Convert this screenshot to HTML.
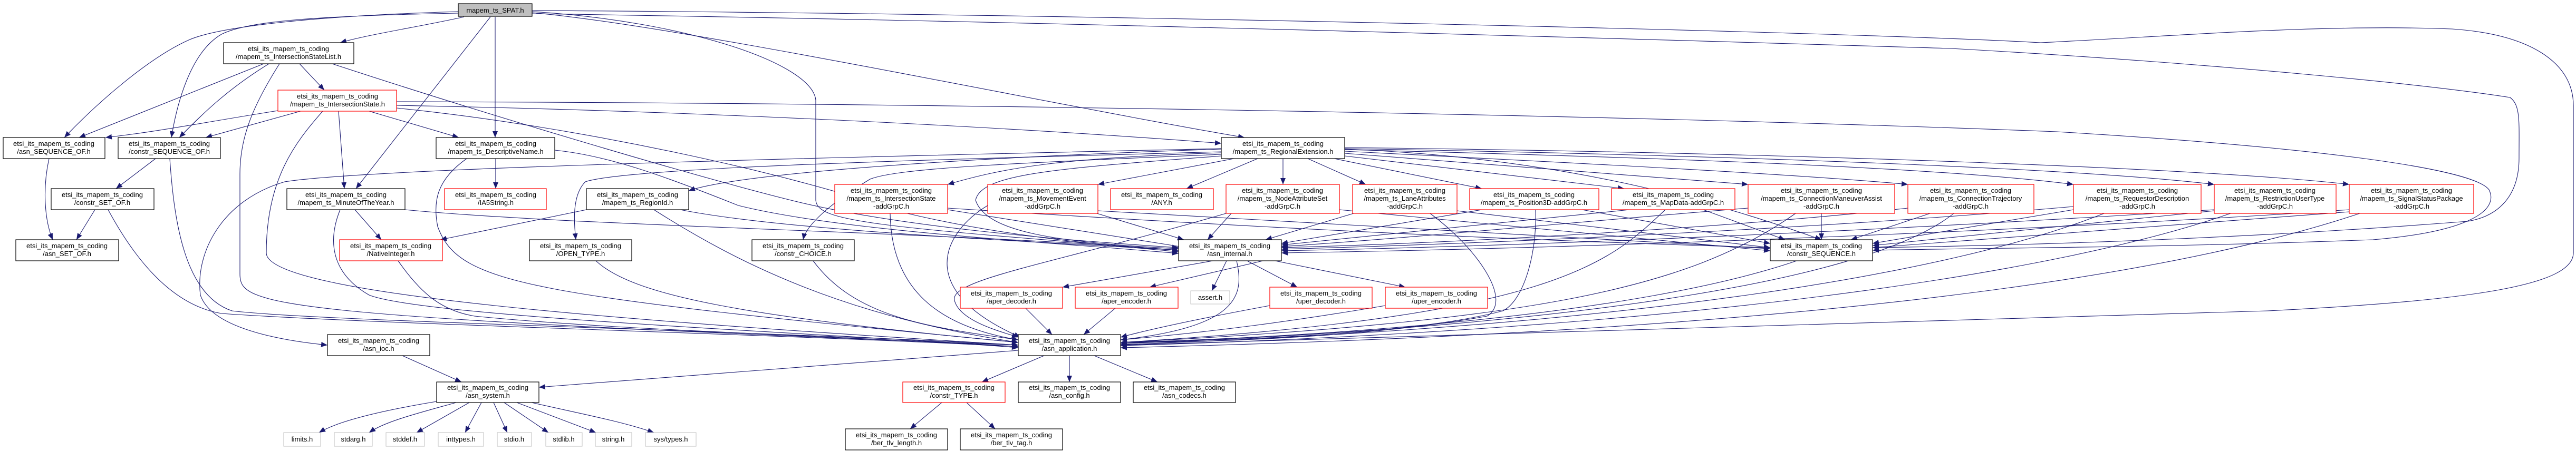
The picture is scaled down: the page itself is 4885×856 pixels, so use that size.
<!DOCTYPE html>
<html><head><meta charset="utf-8"><style>
html,body{margin:0;padding:0;background:#fff;}
svg{display:block;}
text{font-family:"Liberation Sans","DejaVu Sans",sans-serif;font-size:13px;fill:#000;}
.n{fill:#fff;stroke:#000;stroke-width:1.2;}
.r{fill:#fff;stroke:#f00;stroke-width:1.2;}
.g{fill:#fff;stroke:#bfbfbf;stroke-width:1;}
.e{fill:none;stroke:#191970;stroke-width:1.1;}
</style></head><body>
<svg width="4885" height="856" viewBox="0 0 4885 856" xmlns="http://www.w3.org/2000/svg">
<defs><marker id="a" markerUnits="userSpaceOnUse" markerWidth="14" markerHeight="12" refX="12" refY="6" orient="auto"><path d="M0,1 L12,6 L0,11 z" fill="#191970"/></marker></defs>
<g class="e" marker-end="url(#a)">
<!-- SPAT -->
<path d="M880,32 C800,50 700,65 645,81"/>
<path d="M869,22 C600,30 420,50 360,75 C280,110 180,200 122,261"/>
<path d="M869,25 C600,30 470,40 420,65 C360,100 335,200 325,261"/>
<path d="M930,32 L675,358"/>
<path d="M939,32 L939,261"/>
<path d="M1009,24 C1300,50 2000,200 2360,261"/>
<path d="M1009,22 C1300,40 1540,120 1547,190 L1547,380 C1550,420 1650,430 2235,475"/>
<path d="M1009,20 C2000,25 3500,60 3870,81 C4100,70 4400,45 4650,55 C4800,65 4880,120 4880,200 L4880,480 C4880,540 4700,570 4300,590 C3500,620 2700,640 2125,655"/>
<path d="M1009,26 C2000,40 3300,80 3700,92 C4200,120 4600,160 4760,185 C4780,200 4777,230 4777,300 C4777,370 4740,410 4680,420 C4300,450 3900,465 3551,470"/>
<!-- ISL -->
<path d="M568,121 L615,171"/>
<path d="M500,121 L150,261"/>
<path d="M510,121 C430,170 380,220 340,261"/>
<path d="M530,121 C480,200 455,260 455,330 L455,520 C455,580 500,600 1931,655"/>
<path d="M630,121 C900,210 1300,330 1500,380 C1700,430 2000,455 2235,470"/>
<!-- IS -->
<path d="M527,210 C400,230 300,250 200,261"/>
<path d="M570,211 L390,261"/>
<path d="M642,211 L653,358"/>
<path d="M700,211 L870,261"/>
<path d="M612,211 C560,270 505,340 505,480 C505,560 1200,610 1931,655"/>
<path d="M752,200 C1300,210 1900,240 2316,272"/>
<path d="M752,193 C1700,195 3000,215 3900,250 C4400,280 4690,320 4720,360 C4740,400 4680,440 4500,455 C4100,470 3800,470 3551,475"/>
<path d="M752,205 C1100,240 1500,330 1700,400 C1900,450 2100,465 2235,478"/>
<!-- DescName -->
<path d="M940,301 L940,358"/>
<path d="M885,301 C830,340 820,380 830,430 C870,540 1000,560 1931,650"/>
<path d="M1052,285 C1150,295 1250,330 1400,390 C1600,440 2000,460 2235,481"/>
<!-- CSEQOF / SEQOF / CSETOF -->
<path d="M295,301 L220,358"/>
<path d="M322,301 C330,420 350,560 440,590 C600,610 1500,630 1931,655"/>
<path d="M93,301 C80,360 85,420 100,455"/>
<path d="M180,398 L145,455"/>
<path d="M205,398 C260,500 330,580 420,595 C700,615 1500,635 1931,658"/>
<!-- MOTY / NatInt / RegionId / OPEN -->
<path d="M673,398 L723,455"/>
<path d="M645,398 C620,460 630,520 700,560 C800,600 1500,630 1931,658"/>
<path d="M768,398 C1100,430 1800,440 2235,475"/>
<path d="M755,495 C800,560 840,590 900,600 C1200,630 1700,640 1931,660"/>
<path d="M1112,398 L835,455"/>
<path d="M1240,398 C1400,500 1600,600 1931,650"/>
<path d="M1290,398 C1500,440 2000,460 2235,475"/>
<path d="M1130,495 C1200,560 1400,600 1931,650"/>
<path d="M763,675 L875,725"/>
<path d="M1931,665 L1022,735"/>
<!-- RegExt -->
<path d="M2316,282 C1500,300 700,320 540,345 C420,380 370,480 380,560 C400,620 520,645 621,655"/>
<path d="M2316,290 C2000,300 1900,320 1797,350"/>
<path d="M2340,301 L2082,350"/>
<path d="M2385,301 L2250,358"/>
<path d="M2433,301 L2433,350"/>
<path d="M2480,301 L2590,350"/>
<path d="M2530,301 L2810,358"/>
<path d="M2550,296 L3080,358"/>
<path d="M2550,291 L3315,350"/>
<path d="M2550,287 C3000,310 3400,330 3618,350"/>
<path d="M2550,284 C3200,300 3700,320 3932,350"/>
<path d="M2550,282 C3300,295 3950,320 4199,350"/>
<path d="M2550,280 C3400,290 4200,320 4455,350"/>
<path d="M2316,283 C1800,300 1400,330 1306,362"/>
<path d="M2316,288 C1900,300 1200,315 1110,345 C1085,370 1088,420 1092,455"/>
<path d="M2316,293 C1900,310 1700,320 1650,340 C1600,370 1530,420 1523,455"/>
<path d="M2316,296 C2000,320 1860,330 1850,380 C1870,440 2000,460 2235,472"/>
<path d="M2550,283 C3000,300 3300,400 3454,455"/>
<!-- addGrpC -->
<path d="M1797,398 L2250,470"/>
<path d="M1797,395 C2500,440 3000,460 3357,470"/>
<path d="M1688,405 C1690,550 1780,620 1931,645"/>
<path d="M2080,405 L2245,455"/>
<path d="M2082,400 L3357,472"/>
<path d="M1873,390 C1790,440 1730,550 1935,640"/>
<path d="M2335,405 L2290,455"/>
<path d="M2325,405 C2000,500 1800,530 1810,570 C1820,610 1900,630 1931,640"/>
<path d="M2540,398 L3357,476"/>
<path d="M2567,405 L2400,455"/>
<path d="M2763,400 L3357,470"/>
<path d="M2712,405 C2800,470 2870,570 2820,600 C2600,640 2300,650 2125,650"/>
<path d="M2810,398 L2430,462"/>
<path d="M3000,398 L3357,462"/>
<path d="M2912,398 C2915,480 2890,570 2850,590 C2700,630 2400,645 2125,650"/>
<path d="M3090,398 L2430,465"/>
<path d="M3230,398 L3385,455"/>
<path d="M3158,398 C3050,500 2950,600 2125,650"/>
<path d="M3315,395 C3000,420 2700,450 2430,468"/>
<path d="M3454,405 L3454,455"/>
<path d="M3405,405 C3200,550 2900,610 2125,650"/>
<path d="M3618,395 C3300,430 2800,460 2430,470"/>
<path d="M3660,405 L3510,455"/>
<path d="M3705,405 C3550,530 3000,620 2125,652"/>
<path d="M3932,392 C3500,430 2900,460 2430,473"/>
<path d="M3932,398 L3551,462"/>
<path d="M3990,405 C3700,520 3100,620 2125,654"/>
<path d="M4199,398 C3700,430 3000,465 2430,476"/>
<path d="M4199,400 L3551,466"/>
<path d="M4230,405 C3900,520 3200,625 2125,656"/>
<path d="M4455,398 C4000,430 3100,470 2430,480"/>
<path d="M4455,402 L3551,470"/>
<path d="M4475,405 C4100,530 3400,630 2125,660"/>
<!-- internal -->
<path d="M2300,495 L2015,545"/>
<path d="M2395,495 L2180,545"/>
<path d="M2326,495 L2298,552"/>
<path d="M2365,495 L2460,545"/>
<path d="M2418,495 L2665,545"/>
<path d="M2345,495 C2360,560 2350,620 2125,645"/>
<path d="M1945,585 L1995,635"/>
<path d="M2115,585 L2055,635"/>
<path d="M2408,580 C2300,600 2200,620 2125,640"/>
<path d="M2627,580 C2450,610 2300,630 2125,645"/>
<path d="M3407,495 C3100,600 2500,640 2125,650"/>
<path d="M1542,495 C1620,600 1750,620 1931,645"/>
<path d="M1980,675 L1862,725"/>
<path d="M2028,675 L2028,725"/>
<path d="M2075,675 L2195,725"/>
<path d="M1786,764 L1726,814"/>
<path d="M1833,764 L1887,814"/>
<!-- system -->
<path d="M828,762 C720,780 640,800 605,821"/>
<path d="M865,764 C790,785 730,800 700,821"/>
<path d="M890,764 L790,821"/>
<path d="M913,764 L882,821"/>
<path d="M936,764 L962,821"/>
<path d="M956,764 L1040,821"/>
<path d="M980,764 L1130,821"/>
<path d="M1008,764 C1100,785 1180,800 1240,821"/>
</g>
<!-- nodes -->
<rect x="869" y="7" width="140" height="24" fill="#bfbfbf" stroke="#000" stroke-width="1.2"/>
<text x="939" y="24" text-anchor="middle">mapem_ts_SPAT.h</text>
<g text-anchor="middle">
<rect class="n" x="424" y="81" width="247" height="40"/><text x="547" y="97">etsi_its_mapem_ts_coding</text><text x="547" y="112">/mapem_ts_IntersectionStateList.h</text>
<rect class="r" x="527" y="171" width="225" height="40"/><text x="640" y="187">etsi_its_mapem_ts_coding</text><text x="640" y="202">/mapem_ts_IntersectionState.h</text>
<rect class="n" x="6" y="261" width="193" height="40"/><text x="102" y="277">etsi_its_mapem_ts_coding</text><text x="102" y="292">/asn_SEQUENCE_OF.h</text>
<rect class="n" x="224" y="261" width="194" height="40"/><text x="321" y="277">etsi_its_mapem_ts_coding</text><text x="321" y="292">/constr_SEQUENCE_OF.h</text>
<rect class="n" x="827" y="261" width="225" height="40"/><text x="940" y="277">etsi_its_mapem_ts_coding</text><text x="940" y="292">/mapem_ts_DescriptiveName.h</text>
<rect class="n" x="97" y="358" width="195" height="40"/><text x="194" y="374">etsi_its_mapem_ts_coding</text><text x="194" y="389">/constr_SET_OF.h</text>
<rect class="n" x="544" y="358" width="224" height="40"/><text x="656" y="374">etsi_its_mapem_ts_coding</text><text x="656" y="389">/mapem_ts_MinuteOfTheYear.h</text>
<rect class="r" x="843" y="358" width="193" height="40"/><text x="940" y="374">etsi_its_mapem_ts_coding</text><text x="940" y="389">/IA5String.h</text>
<rect class="n" x="1112" y="358" width="194" height="40"/><text x="1209" y="374">etsi_its_mapem_ts_coding</text><text x="1209" y="389">/mapem_ts_RegionId.h</text>
<rect class="n" x="30" y="455" width="195" height="40"/><text x="127" y="471">etsi_its_mapem_ts_coding</text><text x="127" y="486">/asn_SET_OF.h</text>
<rect class="r" x="644" y="455" width="195" height="40"/><text x="741" y="471">etsi_its_mapem_ts_coding</text><text x="741" y="486">/NativeInteger.h</text>
<rect class="n" x="1004" y="455" width="194" height="40"/><text x="1101" y="471">etsi_its_mapem_ts_coding</text><text x="1101" y="486">/OPEN_TYPE.h</text>
<rect class="n" x="621" y="635" width="194" height="40"/><text x="718" y="651">etsi_its_mapem_ts_coding</text><text x="718" y="666">/asn_ioc.h</text>
<rect class="n" x="828" y="725" width="194" height="39"/><text x="925" y="740">etsi_its_mapem_ts_coding</text><text x="925" y="755">/asn_system.h</text>
<rect class="n" x="2316" y="261" width="234" height="40"/><text x="2433" y="277">etsi_its_mapem_ts_coding</text><text x="2433" y="292">/mapem_ts_RegionalExtension.h</text>
<rect class="r" x="1583" y="350" width="214" height="55"/><text x="1690" y="366">etsi_its_mapem_ts_coding</text><text x="1690" y="381">/mapem_ts_IntersectionState</text><text x="1690" y="396">-addGrpC.h</text>
<rect class="n" x="1426" y="455" width="194" height="40"/><text x="1523" y="471">etsi_its_mapem_ts_coding</text><text x="1523" y="486">/constr_CHOICE.h</text>
<rect class="r" x="1873" y="350" width="209" height="55"/><text x="1977" y="366">etsi_its_mapem_ts_coding</text><text x="1977" y="381">/mapem_ts_MovementEvent</text><text x="1977" y="396">-addGrpC.h</text>
<rect class="r" x="2106" y="358" width="195" height="40"/><text x="2203" y="374">etsi_its_mapem_ts_coding</text><text x="2203" y="389">/ANY.h</text>
<rect class="r" x="2325" y="350" width="215" height="55"/><text x="2432" y="366">etsi_its_mapem_ts_coding</text><text x="2432" y="381">/mapem_ts_NodeAttributeSet</text><text x="2432" y="396">-addGrpC.h</text>
<rect class="r" x="2565" y="350" width="198" height="55"/><text x="2664" y="366">etsi_its_mapem_ts_coding</text><text x="2664" y="381">/mapem_ts_LaneAttributes</text><text x="2664" y="396">-addGrpC.h</text>
<rect class="r" x="2787" y="358" width="245" height="40"/><text x="2909" y="374">etsi_its_mapem_ts_coding</text><text x="2909" y="389">/mapem_ts_Position3D-addGrpC.h</text>
<rect class="r" x="3056" y="358" width="234" height="40"/><text x="3173" y="374">etsi_its_mapem_ts_coding</text><text x="3173" y="389">/mapem_ts_MapData-addGrpC.h</text>
<rect class="r" x="3315" y="350" width="278" height="55"/><text x="3454" y="366">etsi_its_mapem_ts_coding</text><text x="3454" y="381">/mapem_ts_ConnectionManeuverAssist</text><text x="3454" y="396">-addGrpC.h</text>
<rect class="r" x="3618" y="350" width="239" height="55"/><text x="3737" y="366">etsi_its_mapem_ts_coding</text><text x="3737" y="381">/mapem_ts_ConnectionTrajectory</text><text x="3737" y="396">-addGrpC.h</text>
<rect class="r" x="3932" y="350" width="242" height="55"/><text x="4053" y="366">etsi_its_mapem_ts_coding</text><text x="4053" y="381">/mapem_ts_RequestorDescription</text><text x="4053" y="396">-addGrpC.h</text>
<rect class="r" x="4199" y="350" width="231" height="55"/><text x="4314" y="366">etsi_its_mapem_ts_coding</text><text x="4314" y="381">/mapem_ts_RestrictionUserType</text><text x="4314" y="396">-addGrpC.h</text>
<rect class="r" x="4455" y="350" width="236" height="55"/><text x="4573" y="366">etsi_its_mapem_ts_coding</text><text x="4573" y="381">/mapem_ts_SignalStatusPackage</text><text x="4573" y="396">-addGrpC.h</text>
<rect class="n" x="2235" y="455" width="195" height="40"/><text x="2332" y="471">etsi_its_mapem_ts_coding</text><text x="2332" y="486">/asn_internal.h</text>
<rect class="n" x="3357" y="455" width="194" height="40"/><text x="3454" y="471">etsi_its_mapem_ts_coding</text><text x="3454" y="486">/constr_SEQUENCE.h</text>
<rect class="r" x="1821" y="545" width="194" height="40"/><text x="1918" y="561">etsi_its_mapem_ts_coding</text><text x="1918" y="576">/aper_decoder.h</text>
<rect class="r" x="2039" y="545" width="195" height="40"/><text x="2136" y="561">etsi_its_mapem_ts_coding</text><text x="2136" y="576">/aper_encoder.h</text>
<rect class="g" x="2258" y="552" width="74" height="25"/><text x="2295" y="569">assert.h</text>
<rect class="r" x="2408" y="545" width="194" height="40"/><text x="2505" y="561">etsi_its_mapem_ts_coding</text><text x="2505" y="576">/uper_decoder.h</text>
<rect class="r" x="2627" y="545" width="194" height="40"/><text x="2724" y="561">etsi_its_mapem_ts_coding</text><text x="2724" y="576">/uper_encoder.h</text>
<rect class="n" x="1931" y="635" width="194" height="40"/><text x="2028" y="651">etsi_its_mapem_ts_coding</text><text x="2028" y="666">/asn_application.h</text>
<rect class="r" x="1712" y="725" width="194" height="39"/><text x="1809" y="740">etsi_its_mapem_ts_coding</text><text x="1809" y="755">/constr_TYPE.h</text>
<rect class="n" x="1931" y="725" width="194" height="39"/><text x="2028" y="740">etsi_its_mapem_ts_coding</text><text x="2028" y="755">/asn_config.h</text>
<rect class="n" x="2149" y="725" width="194" height="39"/><text x="2246" y="740">etsi_its_mapem_ts_coding</text><text x="2246" y="755">/asn_codecs.h</text>
<rect class="n" x="1603" y="814" width="194" height="40"/><text x="1700" y="830">etsi_its_mapem_ts_coding</text><text x="1700" y="845">/ber_tlv_length.h</text>
<rect class="n" x="1821" y="814" width="194" height="40"/><text x="1918" y="830">etsi_its_mapem_ts_coding</text><text x="1918" y="845">/ber_tlv_tag.h</text>
<rect class="g" x="538" y="821" width="70" height="26"/><text x="573" y="838">limits.h</text>
<rect class="g" x="634" y="821" width="72" height="26"/><text x="670" y="838">stdarg.h</text>
<rect class="g" x="732" y="821" width="73" height="26"/><text x="768" y="838">stddef.h</text>
<rect class="g" x="831" y="821" width="86" height="26"/><text x="874" y="838">inttypes.h</text>
<rect class="g" x="943" y="821" width="65" height="26"/><text x="975" y="838">stdio.h</text>
<rect class="g" x="1035" y="821" width="69" height="26"/><text x="1069" y="838">stdlib.h</text>
<rect class="g" x="1129" y="821" width="69" height="26"/><text x="1163" y="838">string.h</text>
<rect class="g" x="1224" y="821" width="96" height="26"/><text x="1272" y="838">sys/types.h</text>
</g>
</svg>
</body></html>
